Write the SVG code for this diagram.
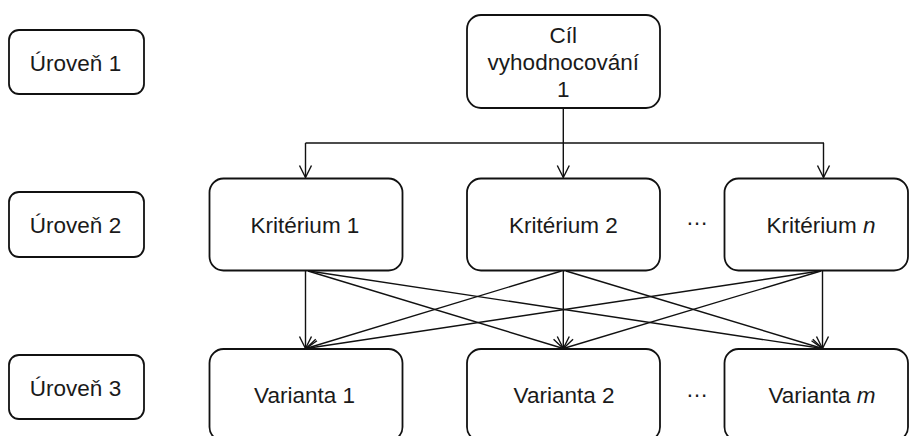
<svg xmlns="http://www.w3.org/2000/svg" width="909" height="436" viewBox="0 0 909 436">
<style>
.box{fill:#fff;stroke:#111;stroke-width:1.8}
.t{font-family:"Liberation Sans",Arial,sans-serif;font-size:22.5px;fill:#1a1a1a;text-anchor:middle}
.c{fill:none;stroke:#111;stroke-width:1.4}
</style>
<defs>
<marker id="arr" markerUnits="userSpaceOnUse" markerWidth="16" markerHeight="16" viewBox="0 0 16 16" refX="13" refY="8" orient="auto">
<path d="M1,2 L13,8 L1,14" fill="none" stroke="#111" stroke-width="1.4"/>
</marker>
</defs>
<rect width="909" height="436" fill="#fff"/>
<g id="connectors" class="c">
<path d="M563.3,108 V177.5" marker-end="url(#arr)"/>
<path d="M305.5,143 H824"/>
<path d="M305.5,143 V177.5" marker-end="url(#arr)"/>
<path d="M823.5,143 V177.5" marker-end="url(#arr)"/>
<path d="M305.5,271 L305.5,348.5" marker-end="url(#arr)"/>
<path d="M308,271 L563.3,348.5" marker-end="url(#arr)"/>
<path d="M309,271 L822.5,348.5" marker-end="url(#arr)"/>
<path d="M561.5,271 L306,348.5" marker-end="url(#arr)"/>
<path d="M563.3,271 L563.3,348.5" marker-end="url(#arr)"/>
<path d="M566,271 L822.5,348.5" marker-end="url(#arr)"/>
<path d="M820,271 L306,348.5" marker-end="url(#arr)"/>
<path d="M821,271 L563.3,348.5" marker-end="url(#arr)"/>
<path d="M822.5,271 L822.5,348.5" marker-end="url(#arr)"/>
</g>
<g id="level1"><rect class="box" x="9" y="30" width="135" height="64" rx="10"/><text class="t" x="75.5" y="70.5">Úroveň 1</text></g>
<g id="level2"><rect class="box" x="9" y="192" width="135" height="65" rx="10"/><text class="t" x="75.5" y="233">Úroveň 2</text></g>
<g id="level3"><rect class="box" x="9" y="355" width="135" height="64" rx="10"/><text class="t" x="75.5" y="395.5">Úroveň 3</text></g>
<g id="goal"><rect class="box" x="467" y="15" width="193" height="93" rx="14"/>
<text class="t" x="563.3" y="43">Cíl</text>
<text class="t" x="563.3" y="70">vyhodnocování</text>
<text class="t" x="563.3" y="96.5">1</text></g>
<g id="krit1"><rect class="box" x="209.5" y="178.5" width="193" height="92" rx="14"/><text class="t" x="305" y="233.3">Kritérium 1</text></g>
<g id="krit2"><rect class="box" x="467" y="178.5" width="193" height="92" rx="14"/><text class="t" x="563.3" y="233.3">Kritérium 2</text></g>
<g id="dots1"><text class="t" x="697" y="224.5">…</text></g>
<g id="kritn"><rect class="box" x="724.5" y="178.5" width="183.5" height="92" rx="14"/><text class="t" x="821" y="233.3">Kritérium <tspan font-style="italic">n</tspan></text></g>
<g id="var1"><rect class="box" x="209.5" y="349" width="193" height="92" rx="14"/><text class="t" x="304.5" y="402.7">Varianta 1</text></g>
<g id="var2"><rect class="box" x="467" y="349" width="193" height="92" rx="14"/><text class="t" x="564" y="402.7">Varianta 2</text></g>
<g id="dots2"><text class="t" x="697" y="396.5">…</text></g>
<g id="varm"><rect class="box" x="724.5" y="349" width="183.5" height="92" rx="14"/><text class="t" x="822" y="402.7">Varianta <tspan font-style="italic">m</tspan></text></g>
</svg>
